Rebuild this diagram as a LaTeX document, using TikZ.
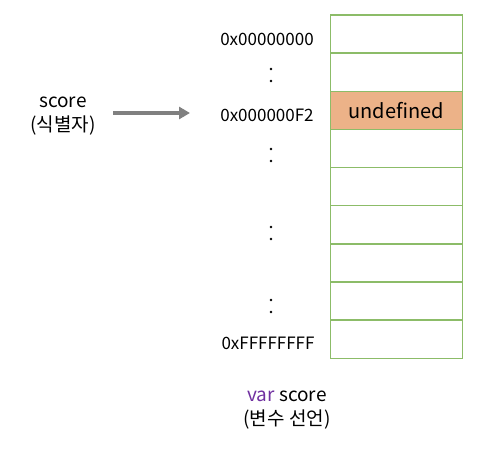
\documentclass[tikz,border=0pt]{standalone}
\usepackage{fontspec}
\setmainfont{Noto Sans CJK KR}
\usetikzlibrary{arrows.meta}
\definecolor{cellgreen}{RGB}{140,188,104}
\definecolor{undeforange}{RGB}{236,178,136}
\definecolor{arrowgray}{RGB}{128,128,128}
\definecolor{varpurple}{RGB}{112,48,160}
\tikzset{
  cell/.style={draw=cellgreen, line width=1.4pt, minimum width=132pt, minimum height=38.15pt, inner sep=0pt, anchor=north west},
  addr/.style={font=\fontsize{17}{19}\selectfont, inner sep=0pt},
  lbl/.style={font=\fontsize{19}{24}\selectfont, align=center, inner sep=0pt}
}
\begin{document}
\begin{tikzpicture}[x=1pt,y=-1pt]
\useasboundingbox (0,0) rectangle (488,449);
\node[cell] (c0) at (329.5,14.3) {};
\node[cell] (c1) at (329.5,52.45) {};
\node[cell, fill=undeforange, font=\fontsize{20}{22}\selectfont] (c2) at (329.5,90.6) {undefined};
\node[cell] (c3) at (329.5,128.75) {};
\node[cell] (c4) at (329.5,166.9) {};
\node[cell] (c5) at (329.5,205.05) {};
\node[cell] (c6) at (329.5,243.2) {};
\node[cell] (c7) at (329.5,281.35) {};
\node[cell] (c8) at (329.5,319.5) {};
\node[addr] (a0) at (267,39) {0x00000000};
\node[addr] (a1) at (267,115.5) {0x000000F2};
\node[addr] (a2) at (268,343) {0xFFFFFFFF};
\foreach \y [count=\i] in {75,155,233,306} {
  \fill (271,\y-6) circle (1.4pt);
  \fill (271,\y+6) circle (1.4pt);
}
\node[lbl] (id) at (63,116) {score\\(식별자)};
\coordinate (arrS) at (113,113);
\coordinate (arrE) at (190,113);
\draw[arrowgray, line width=3.2pt, -{Triangle[length=11pt,width=12pt]}] (arrS) -- (arrE);
\node[lbl] (decl) at (287,410) {\textcolor{varpurple}{var} score\\(변수 선언)};
\end{tikzpicture}
\end{document}
